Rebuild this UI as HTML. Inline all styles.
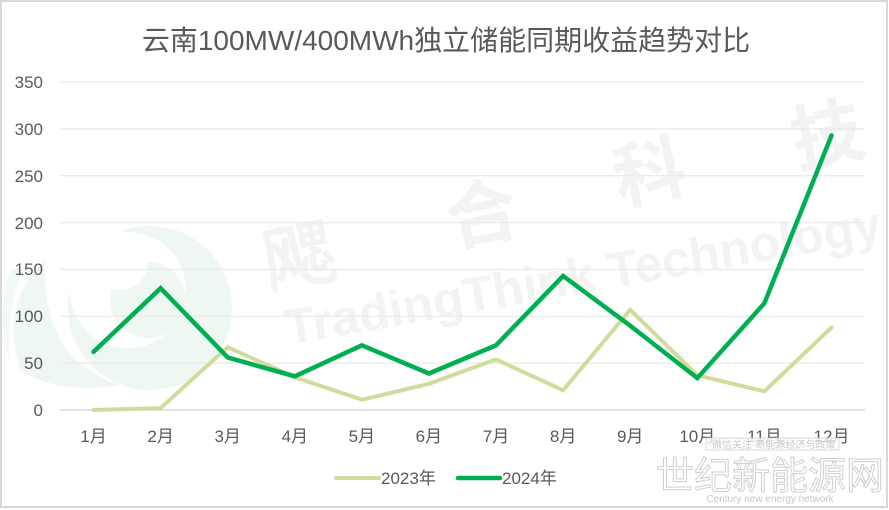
<!DOCTYPE html>
<html>
<head>
<meta charset="utf-8">
<style>
  html, body { margin:0; padding:0; background:#fff; }
  body { width:889px; height:510px; overflow:hidden; }
  svg { display:block; }
  text { font-family: "Liberation Sans", "Noto Sans CJK SC", sans-serif; }
</style>
</head>
<body>
<svg width="889" height="510" viewBox="0 0 889 510" xmlns="http://www.w3.org/2000/svg">
  <rect x="0" y="0" width="889" height="510" fill="#ffffff"/>

  <!-- faint logo watermark -->
  <g>
    <circle cx="150" cy="308" r="82" fill="#eef7f1"/>
    <circle cx="128" cy="290" r="58" fill="#ffffff"/>
    <circle cx="148" cy="300" r="38" fill="#eef7f1"/>
    <circle cx="120" cy="262" r="28" fill="#ffffff"/>
    <path d="M 45 260 Q 0 300 20 370 Q 60 395 120 385 Q 40 360 45 260 Z" fill="#eef7f1"/>
    <path d="M 10 270 Q -5 320 10 360 Q 5 310 25 265 Z" fill="#f2f9f4"/>
  </g>

  <!-- big text watermark -->
  <g fill="#f3f3f3" font-weight="bold">
    <text x="262" y="282" font-size="72" transform="rotate(-12 300 250)">飔</text>
    <text x="445" y="240" font-size="72" transform="rotate(-12 480 210)">合</text>
    <text x="612" y="198" font-size="72" transform="rotate(-12 650 165)">科</text>
    <text x="790" y="160" font-size="72" transform="rotate(-12 830 130)">技</text>
  </g>
  <text x="288" y="345" font-size="50" fill="#f3f3f3" font-weight="bold" transform="rotate(-10 288 345)">TradingThink Technology</text>

  <!-- gridlines -->
  <g stroke="#ebebeb" stroke-width="1.3">
    <line x1="60" y1="82" x2="865" y2="82"/>
    <line x1="60" y1="128.9" x2="865" y2="128.9"/>
    <line x1="60" y1="175.7" x2="865" y2="175.7"/>
    <line x1="60" y1="222.6" x2="865" y2="222.6"/>
    <line x1="60" y1="269.4" x2="865" y2="269.4"/>
    <line x1="60" y1="316.3" x2="865" y2="316.3"/>
    <line x1="60" y1="363.1" x2="865" y2="363.1"/>
  </g>
  <line x1="60" y1="410" x2="865" y2="410" stroke="#d9d9d9" stroke-width="1.5"/>

  <!-- y labels -->
  <g font-size="17" fill="#595959" text-anchor="end">
    <text x="43" y="88">350</text>
    <text x="43" y="135">300</text>
    <text x="43" y="182">250</text>
    <text x="43" y="229">200</text>
    <text x="43" y="275">150</text>
    <text x="43" y="322">100</text>
    <text x="43" y="369">50</text>
    <text x="43" y="416">0</text>
  </g>

  <!-- x labels -->
  <g font-size="17" fill="#595959" text-anchor="middle">
    <text x="93.5" y="442">1月</text>
    <text x="160.6" y="442">2月</text>
    <text x="227.7" y="442">3月</text>
    <text x="294.8" y="442">4月</text>
    <text x="361.9" y="442">5月</text>
    <text x="428.9" y="442">6月</text>
    <text x="496" y="442">7月</text>
    <text x="563.1" y="442">8月</text>
    <text x="630.2" y="442">9月</text>
    <text x="697.3" y="442">10月</text>
    <text x="764.4" y="442">11月</text>
    <text x="831.5" y="442">12月</text>
  </g>

  <!-- 2023 series -->
  <polyline fill="none" stroke="#d0dc9c" stroke-width="4" stroke-linejoin="miter" stroke-linecap="round"
    points="93.5,410 160.6,408.1 227.7,347.2 294.8,377.2 361.9,399.7 428.9,383.8 496,359.4 563.1,390.3 630.2,309.7 697.3,375.3 764.4,391.3 831.5,327.5"/>
  <!-- 2024 series -->
  <polyline fill="none" stroke="#00b050" stroke-width="4.5" stroke-linejoin="miter" stroke-linecap="round"
    points="93.5,351.9 160.6,288.2 227.7,357.5 294.8,376.3 361.9,345.3 428.9,373.5 496,345.3 563.1,276 630.2,325.7 697.3,378.1 764.4,303.2 831.5,135.4"/>

  <!-- title -->
  <text x="446" y="50" font-size="28" fill="#595959" text-anchor="middle">云南100MW/400MWh独立储能同期收益趋势对比</text>

  <!-- legend -->
  <line x1="336" y1="478" x2="379" y2="478" stroke="#d0dc9c" stroke-width="4" stroke-linecap="round"/>
  <text x="381" y="484" font-size="17" fill="#595959">2023年</text>
  <line x1="458" y1="478" x2="500" y2="478" stroke="#00b050" stroke-width="4.5" stroke-linecap="round"/>
  <text x="502" y="484" font-size="17" fill="#595959">2024年</text>

  <!-- bottom-right watermark -->
  <rect x="706" y="438" width="133" height="12" fill="#ffffff" stroke="#d0d0d0" stroke-width="1" opacity="0.8"/>
  <text x="772" y="448" font-size="10" fill="#c8c8c8" text-anchor="middle">·微信关注·新能源经济与政策</text>
  <text x="770" y="489" font-size="38" fill="#ffffff" stroke="#cfcfcf" stroke-width="1" text-anchor="middle" font-family="Noto Serif CJK SC, serif">世纪新能源网</text>
  <text x="770" y="502" font-size="10" fill="#c6c6c6" text-anchor="middle" font-family="Liberation Serif, serif">Century new energy network</text>

  <!-- border -->
  <rect x="1" y="1" width="886" height="506" fill="none" stroke="#d9d9d9" stroke-width="2"/>
</svg>
</body>
</html>
